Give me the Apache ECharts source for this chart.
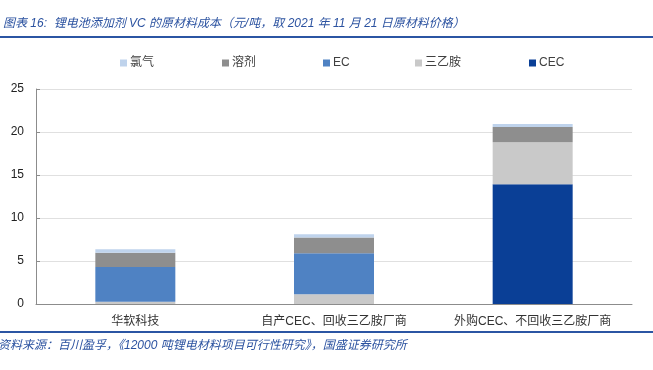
<!DOCTYPE html>
<html>
<head>
<meta charset="utf-8">
<script src="https://cdn.jsdelivr.net/npm/echarts@6/dist/echarts.min.js"></script>
<style>html,body{margin:0;padding:0;background:#fff;}#c{width:653px;height:370px;}</style>
</head>
<body>
<div id="c"></div>
<script>
var categories = ['华软科技', '自产CEC、回收三乙胺厂商', '外购CEC、不回收三乙胺厂商'];
var seriesNames = ['氯气', '溶剂', 'EC', '三乙胺', 'CEC'];
var cecValues = [0, 0, 13.92];
var triethylamineValues = [0.27, 1.13, 4.88];
var ecValues = [4.03, 4.77, 0];
var solventValues = [1.67, 1.82, 1.78];
var chlorineValues = [0.39, 0.39, 0.35];
var yTicks = [0, 5, 10, 15, 20, 25];

var colors = {'氯气':'#BFD3EC','溶剂':'#8E8E8E','EC':'#4F82C3','三乙胺':'#C9C9C9','CEC':'#0A3F96'};
var FONT = '"Liberation Sans","Noto Sans CJK SC",sans-serif';
var chart = echarts.init(document.getElementById('c'), null, {renderer:'canvas'});

function bar(name, data){
  return {name:name, type:'bar', stack:'total', data:data, barWidth:80,
    itemStyle:{color:colors[name]}};
}
var legendLefts = [115, 217, 318, 410, 524];
var legends = seriesNames.map(function(n,i){
  return {data:[n], left:legendLefts[i], top:52, itemWidth:7, itemHeight:7, itemGap:0,
    icon:'rect', selectedMode:false,
    textStyle:{fontSize:12, color:'#404040', fontFamily:FONT, padding:[0,0,0,-2]}};
});

chart.setOption({
  animation:false,
  title:{text:'图表 16:  锂电池添加剂 VC 的原材料成本（元/吨，取 2021 年 11 月 21 日原材料价格）',
    left:-2, top:13,
    textStyle:{fontSize:12, fontStyle:'italic', fontWeight:'normal', color:'#2B52A0', fontFamily:FONT}},
  legend:legends,
  graphic:[
    {type:'rect', shape:{x:0, y:36, width:653, height:2}, style:{fill:'#2B55A3'}},
    {type:'rect', shape:{x:0, y:331, width:653, height:2}, style:{fill:'#2B55A3'}},
    {type:'text', left:-2, top:340, style:{text:'资料来源：百川盈孚，《12000 吨锂电材料项目可行性研究》，国盛证券研究所',
      fill:'#2B52A0', font:'italic 12px '+FONT}}
  ],
  grid:{left:36, right:21, top:89, bottom:66, containLabel:false},
  xAxis:{type:'category', data:categories,
    axisLine:{lineStyle:{color:'#8C8C8C', width:1}},
    axisTick:{inside:true, length:5, lineStyle:{color:'#8C8C8C'}},
    axisLabel:{interval:0, fontSize:12, color:'#333', margin:12, fontFamily:FONT}},
  yAxis:{type:'value', min:yTicks[0], max:yTicks[yTicks.length-1], interval:5,
    axisLine:{show:true, lineStyle:{color:'#8C8C8C'}},
    axisTick:{show:true, inside:true, length:4, lineStyle:{color:'#8C8C8C'}},
    splitLine:{lineStyle:{color:'#E0E0E0'}},
    axisLabel:{fontSize:12, color:'#222', margin:12, fontFamily:FONT}},
  series:[
    bar('CEC', cecValues),
    bar('三乙胺', triethylamineValues),
    bar('EC', ecValues),
    bar('溶剂', solventValues),
    bar('氯气', chlorineValues)
  ]
});
</script>
</body>
</html>
